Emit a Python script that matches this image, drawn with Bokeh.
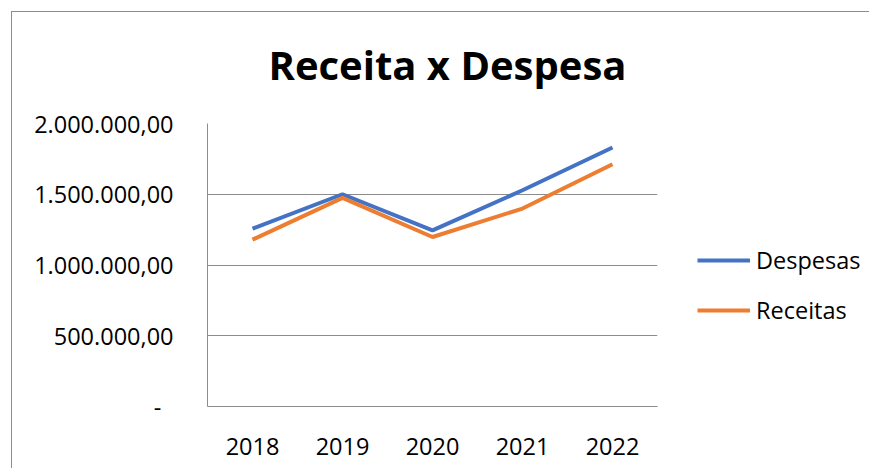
from bokeh.plotting import figure
from bokeh.models import (FactorRange, Range1d, FixedTicker, CustomJSTickFormatter,
                          Legend, LegendItem, ColumnDataSource)
from bokeh.embed import file_html
from bokeh.resources import INLINE

years = ["2018", "2019", "2020", "2021", "2022"]
despesas = [1257000, 1500000, 1245000, 1528000, 1830000]
receitas = [1179000, 1474000, 1198000, 1399000, 1712000]
y_ticks = [0, 500000, 1000000, 1500000, 2000000]

FONT = "Open Sans"
GRID = "#8c8c8c"
FS = "23.5px"

src = ColumnDataSource(dict(year=years, despesas=despesas, receitas=receitas))

p = figure(frame_width=450, frame_height=283, x_range=FactorRange(*years, range_padding=0),
           y_range=Range1d(0, 2000000), output_backend="svg", toolbar_location=None,
           min_border_left=207, min_border_right=212, min_border_top=123, min_border_bottom=62)
# chart-area border (left and top edges) drawn as the element's background
p.styles = {
    "background": ("linear-gradient(#8c8c8c, #8c8c8c) 11px 11px / 1px 100% no-repeat, "
                   "linear-gradient(#8c8c8c, #8c8c8c) 11px 11px / 100% 1px no-repeat, white"),
}
p.outline_line_color = None
p.background_fill_color = "white"
p.border_fill_alpha = 0

p.title.text = "Receita x Despesa"
p.title.text_font = FONT
p.title.text_font_style = "bold"
p.title.text_font_size = "40px"
p.title.align = "left"
p.title.offset = 61
p.title.standoff = 64
p.title.text_color = "black"

l1 = p.line("year", "despesas", source=src, line_color="#4472C4", line_width=4)
l2 = p.line("year", "receitas", source=src, line_color="#ED7D31", line_width=4)

p.xgrid.grid_line_color = None
p.ygrid.grid_line_color = GRID
p.ygrid.grid_line_width = 1
p.yaxis.ticker = FixedTicker(ticks=y_ticks)
p.yaxis.formatter = CustomJSTickFormatter(code="""
if (tick == 0) { return "-\\u00a0\\u00a0"; }
const s = Math.round(tick).toString().replace(/\\B(?=(\\d{3})+(?!\\d))/g, ".");
return s + ",00";
""")
for ax in (p.xaxis, p.yaxis):
    ax.axis_line_color = GRID
    ax.axis_line_width = 1
    ax.major_tick_line_color = None
    ax.minor_tick_line_color = None
    ax.major_label_text_font = FONT
    ax.major_label_text_font_size = FS
    ax.major_label_text_color = "black"
p.yaxis.major_label_standoff = 28
p.xaxis.major_label_standoff = 25

legend = Legend(items=[LegendItem(label="Despesas", renderers=[l1]),
                       LegendItem(label="Receitas", renderers=[l2])],
                location=(40, 80), orientation="vertical")
legend.padding = 0
legend.margin = 0
legend.spacing = 18
legend.glyph_width = 53
legend.glyph_height = 30
legend.label_height = 30
legend.label_standoff = 6
legend.label_text_font = FONT
legend.label_text_font_size = FS
legend.label_text_color = "black"
legend.border_line_color = None
legend.background_fill_alpha = 0
p.add_layout(legend, "right")

open("out.html", "w").write(file_html(p, INLINE))
